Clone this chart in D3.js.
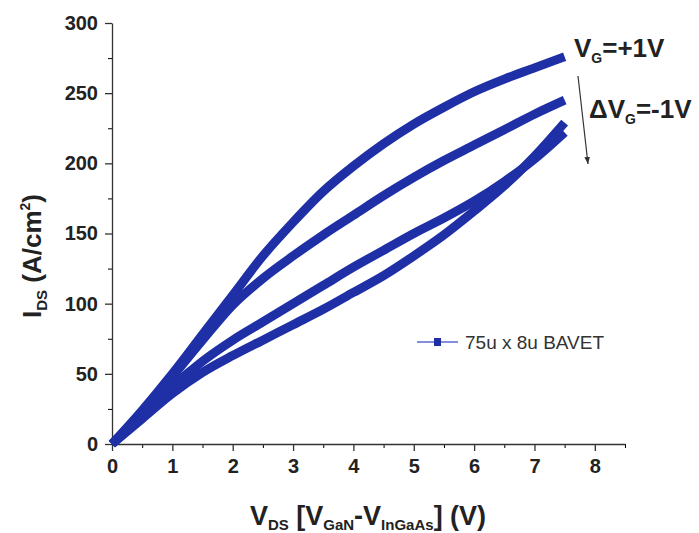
<!DOCTYPE html>
<html>
<head>
<meta charset="utf-8">
<script src="https://cdn.jsdelivr.net/npm/d3@7"></script>
<style>
  body { margin: 0; background: #fff; }
  svg { display: block; font-family: "Liberation Sans", Arial, sans-serif; }
</style>
</head>
<body>
<svg id="chart"></svg>
<script>
// drain voltage samples (V)
const vds = [0, 0.5, 1, 1.5, 2, 2.5, 3, 3.5, 4, 4.5, 5, 5.5, 6, 6.5, 7, 7.5];

// current density (A/cm2) per gate step
const vgPlus1 = [0, 24, 50, 78, 106, 134, 158, 180, 198, 214, 228, 240, 251, 260, 268, 276];
const vg0 = [0, 23, 48, 74, 99, 118, 134, 149, 163, 177, 190, 202, 213, 224, 235, 245];
const vgMinus1 = [0, 20, 41, 59, 74, 87, 100, 113, 126, 138, 150, 161, 173, 187, 203, 222];
const vgMinus2 = [0, 18, 36, 51, 63, 74, 85, 96, 108, 120, 134, 149, 166, 184, 205, 229];

const xMajor = [0, 1, 2, 3, 4, 5, 6, 7, 8];
const xMinor = [0.5, 1.5, 2.5, 3.5, 4.5, 5.5, 6.5, 7.5, 8.5];
const yMajor = [0, 50, 100, 150, 200, 250, 300];
const yMinor = [25, 75, 125, 175, 225, 275];

const legendLabels = ["75u x 8u BAVET"];

const width = 699, height = 533;
const lineColor = "#1f30a6";
const axisColor = "#333";

const svg = d3.select("#chart")
  .attr("width", width)
  .attr("height", height);

const x = d3.scaleLinear().domain([0, 8.5]).range([112, 625]);
const y = d3.scaleLinear().domain([0, 300]).range([444, 23]);

// minor ticks first, major on top
svg.append("g")
  .attr("transform", `translate(0,${y(0)})`)
  .call(d3.axisBottom(x).tickValues(xMinor).tickSize(4).tickFormat(""))
  .call(g => g.select(".domain").remove());

svg.append("g")
  .attr("transform", `translate(${x(0)},0)`)
  .call(d3.axisLeft(y).tickValues(yMinor).tickSize(4).tickFormat(""))
  .call(g => g.select(".domain").remove());

const xAxis = svg.append("g")
  .attr("transform", `translate(0,${y(0)})`)
  .call(d3.axisBottom(x).tickValues(xMajor).tickSize(7).tickPadding(8).tickSizeOuter(0));

const yAxis = svg.append("g")
  .attr("transform", `translate(${x(0)},0)`)
  .call(d3.axisLeft(y).tickValues(yMajor).tickSize(7).tickPadding(7).tickSizeOuter(0));

[xAxis, yAxis].forEach(g => {
  g.selectAll("path, line").attr("stroke", axisColor).attr("stroke-width", 1.3);
  g.selectAll("text")
    .attr("fill", "#222")
    .attr("font-size", 20)
    .attr("font-weight", "bold");
});

// the four I-V curves
const series = [vgPlus1, vg0, vgMinus1, vgMinus2];
const line = d3.line()
  .x((d, i) => x(vds[i]))
  .y(d => y(d))
  .curve(d3.curveMonotoneX);

svg.append("g")
  .selectAll("path")
  .data(series)
  .enter()
  .append("path")
  .attr("d", line)
  .attr("fill", "none")
  .attr("stroke", lineColor)
  .attr("stroke-width", 9)
  .attr("stroke-linejoin", "round");

// axis titles
const yTitle = svg.append("text")
  .attr("transform", `translate(41,256) rotate(-90)`)
  .attr("text-anchor", "middle")
  .attr("font-size", 26)
  .attr("font-weight", "bold")
  .attr("fill", "#222");
yTitle.append("tspan").text("I");
yTitle.append("tspan").attr("font-size", 15).attr("dy", 6).text("DS");
yTitle.append("tspan").attr("dy", -6).text(" (A/cm");
yTitle.append("tspan").attr("font-size", 14).attr("dy", -11).text("2");
yTitle.append("tspan").attr("dy", 11).text(")");

const xTitle = svg.append("text")
  .attr("x", 368)
  .attr("y", 525)
  .attr("text-anchor", "middle")
  .attr("font-size", 27)
  .attr("font-weight", "bold")
  .attr("fill", "#222");
xTitle.append("tspan").text("V");
xTitle.append("tspan").attr("font-size", 15).attr("dy", 5).text("DS");
xTitle.append("tspan").attr("dy", -5).text(" [V");
xTitle.append("tspan").attr("font-size", 15).attr("dy", 5).text("GaN");
xTitle.append("tspan").attr("dy", -5).text("-V");
xTitle.append("tspan").attr("font-size", 15).attr("dy", 5).text("InGaAs");
xTitle.append("tspan").attr("dy", -5).text("] (V)");

// gate voltage annotations
const vgLabel = svg.append("text")
  .attr("x", 574)
  .attr("y", 57)
  .attr("font-size", 26)
  .attr("font-weight", "bold")
  .attr("fill", "#222");
vgLabel.append("tspan").text("V");
vgLabel.append("tspan").attr("font-size", 14).attr("dy", 6).text("G");
vgLabel.append("tspan").attr("dy", -6).text("=+1V");

const stepLabel = svg.append("text")
  .attr("x", 589)
  .attr("y", 118)
  .attr("font-size", 26)
  .attr("font-weight", "bold")
  .attr("fill", "#222");
stepLabel.append("tspan").text("\u0394V");
stepLabel.append("tspan").attr("font-size", 14).attr("dy", 6).text("G");
stepLabel.append("tspan").attr("dy", -6).text("=-1V");

svg.append("defs")
  .append("marker")
  .attr("id", "head")
  .attr("viewBox", "0 -5 10 10")
  .attr("refX", 10)
  .attr("markerWidth", 6)
  .attr("markerHeight", 8)
  .attr("orient", "auto")
  .append("path")
  .attr("d", "M0,-4L10,0L0,4")
  .attr("fill", "#333");

svg.append("line")
  .attr("x1", 578).attr("y1", 76)
  .attr("x2", 588).attr("y2", 164)
  .attr("stroke", "#333")
  .attr("stroke-width", 1.2)
  .attr("marker-end", "url(#head)");

// legend
const legend = svg.append("g")
  .selectAll("g")
  .data(legendLabels)
  .enter()
  .append("g")
  .attr("transform", (d, i) => `translate(417,${342 + i * 22})`);

legend.append("line")
  .attr("x1", 0).attr("x2", 41)
  .attr("stroke", "#5a6ad0")
  .attr("stroke-width", 1.5);

legend.append("rect")
  .attr("x", 17).attr("y", -4)
  .attr("width", 7).attr("height", 8)
  .attr("fill", lineColor);

legend.append("text")
  .attr("x", 48)
  .attr("y", 7)
  .attr("font-size", 19)
  .attr("fill", "#333")
  .text(d => d);
</script>
</body>
</html>
